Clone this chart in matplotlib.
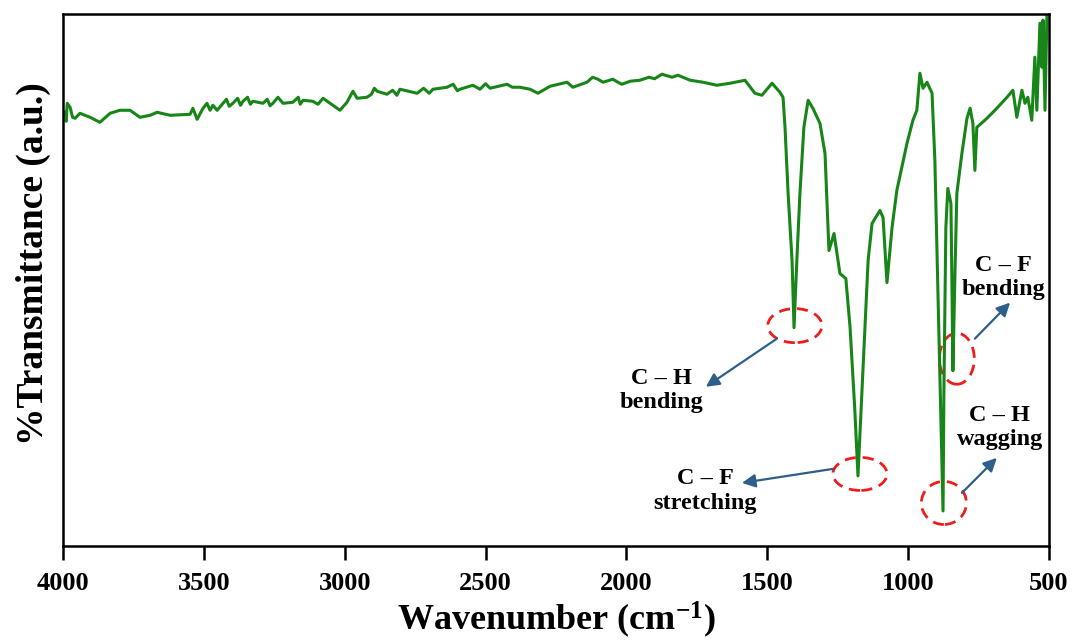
import matplotlib
matplotlib.use("Agg")
import matplotlib.pyplot as plt
from matplotlib.patches import Ellipse

plt.rcParams["font.family"] = ["Liberation Serif", "DejaVu Serif"]
plt.rcParams["font.weight"] = "bold"
plt.rcParams["mathtext.fontset"] = "custom"
plt.rcParams["mathtext.rm"] = "Liberation Serif:bold"
plt.rcParams["mathtext.bf"] = "Liberation Serif:bold"
plt.rcParams["mathtext.default"] = "bf"

# FTIR spectrum (wavenumber in cm-1, transmittance in a.u.)
wavenumber = [3993, 3989, 3985, 3975, 3966, 3957, 3940, 3904, 3869, 3833,
              3798, 3762, 3727, 3691, 3666, 3620, 3549, 3539, 3524, 3503,
              3489, 3478, 3468, 3453, 3432, 3420, 3410, 3397, 3380, 3370,
              3361, 3345, 3335, 3326, 3290, 3275, 3265, 3255, 3237, 3219,
              3184, 3165, 3158, 3148, 3113, 3095, 3077, 3052, 3017, 2992,
              2971, 2956, 2921, 2905, 2895, 2885, 2850, 2830, 2815, 2804,
              2743, 2720, 2700, 2687, 2637, 2615, 2600, 2591, 2545, 2520,
              2500, 2484, 2424, 2405, 2378, 2342, 2314, 2271, 2211, 2190,
              2140, 2120, 2101, 2083, 2048, 2030, 2016, 1987, 1952, 1920,
              1900, 1874, 1838, 1817, 1774, 1728, 1679, 1632, 1579, 1544,
              1519, 1483, 1455, 1444, 1437, 1426, 1412, 1405, 1395, 1384,
              1370, 1355, 1338, 1313, 1295, 1281, 1263, 1242, 1221, 1206,
              1189, 1178, 1167, 1153, 1142, 1128, 1100, 1089, 1075, 1057,
              1040, 1004, 983, 969, 958, 947, 933, 915, 905, 894,
              883, 876, 873, 866, 859, 848, 844, 841, 834, 827,
              809, 791, 780, 770, 763, 756, 720, 685, 649, 628,
              614, 596, 585, 575, 561, 550, 543, 532, 525, 521,
              514, 507, 500]
transmittance = [86.6, 84.8, 88.4, 87.6, 85.6, 85.4, 86.4, 85.6, 84.6, 86.4,
                 87.0, 87.0, 85.6, 86.0, 86.6, 86.0, 86.2, 87.4, 85.2, 87.4,
                 88.4, 87.0, 88.0, 87.0, 88.4, 89.2, 87.8, 88.4, 89.4, 88.0,
                 88.8, 89.6, 88.2, 88.8, 88.4, 89.2, 87.9, 88.4, 89.6, 88.4,
                 88.6, 89.6, 88.2, 89.0, 88.8, 88.2, 89.4, 88.4, 87.0, 88.6,
                 90.8, 89.4, 89.6, 90.2, 91.4, 90.8, 90.2, 91.0, 90.0, 91.2,
                 90.4, 91.4, 90.4, 91.2, 91.6, 92.2, 90.9, 91.2, 92.0, 91.2,
                 92.3, 91.4, 92.2, 91.6, 91.6, 91.2, 90.4, 91.8, 92.6, 91.6,
                 92.6, 93.6, 93.2, 92.6, 93.2, 92.6, 92.2, 92.8, 93.0, 93.6,
                 93.3, 94.2, 93.6, 94.0, 93.0, 92.6, 92.0, 92.4, 93.0, 90.4,
                 90.0, 92.4, 90.6, 89.6, 83.6, 70.4, 57.0, 43.6, 57.0, 70.4,
                 83.6, 89.0, 87.4, 84.4, 78.4, 59.0, 62.4, 54.4, 53.4, 43.6,
                 27.0, 14.0, 27.0, 43.6, 57.0, 64.4, 67.0, 65.6, 52.6, 63.6,
                 71.0, 80.4, 85.0, 87.0, 94.4, 91.4, 92.6, 90.4, 77.0, 50.4,
                 23.6, 7.0, 30.4, 63.6, 71.4, 68.4, 50.4, 35.0, 53.6, 70.4,
                 78.4, 85.4, 87.4, 84.4, 75.0, 83.6, 85.4, 87.4, 89.6, 91.0,
                 85.6, 91.0, 88.4, 89.6, 85.0, 97.6, 87.0, 104.4, 95.6, 105.0,
                 87.0, 106.6, 108.0]

xticks = [4000, 3500, 3000, 2500, 2000, 1500, 1000, 500]

# band assignments: label, ellipse centre/size, arrow tail, arrow head, label centre
band_labels = ["C \u2013 H\nbending", "C \u2013 F\nstretching",
               "C \u2013 F\nbending", "C \u2013 H\nwagging"]
ellipse_xy = [(1402, 44.0), (1171, 14.4), (827, 37.4), (873, 8.6)]
ellipse_wh = [(192, 6.8), (192, 6.6), (124, 10.2), (160, 8.6)]
arrow_tail = [(1466, 41.4), (1267, 15.4), (763, 41.4), (809, 10.6)]
arrow_head = [(1718, 31.8), (1590, 12.6), (638, 48.6), (685, 17.6)]
label_xy = [(1877, 31.0), (1721, 11.0), (663, 53.6), (674, 23.6)]

fig = plt.figure(figsize=(10.72, 6.42), dpi=100)
ax = fig.add_axes([0.0588, 0.1495, 0.9197, 0.8285])

ax.plot(wavenumber, transmittance, color="#178517", lw=2.2)

for (cx, cy), (w, h) in zip(ellipse_xy, ellipse_wh):
    ax.add_patch(Ellipse((cx, cy), w, h, fill=False, edgecolor="#ee1c1c",
                         lw=2.0, linestyle=(0, (4, 2.5))))

for tail, head in zip(arrow_tail, arrow_head):
    ax.annotate("", xy=head, xytext=tail,
                arrowprops=dict(arrowstyle="-|>", color="#2e5e8a", lw=1.6,
                                mutation_scale=20, shrinkA=0, shrinkB=0))

for text, (tx, ty) in zip(band_labels, label_xy):
    ax.text(tx, ty, text, ha="center", va="center", fontsize=17.5,
            fontweight="bold", linespacing=1.2)

ax.set_xlim(4000, 500)
ax.set_ylim(0, 106.2)
ax.set_xticks(xticks)
ax.set_yticks([])
ax.tick_params(axis="x", direction="out", length=10, width=1.8, pad=9,
               labelsize=19)
for lbl in ax.get_xticklabels():
    lbl.set_fontweight("bold")
for sp in ax.spines.values():
    sp.set_linewidth(1.8)

ax.set_xlabel("Wavenumber (cm$^{-1}$)", fontsize=26,
              fontweight="bold", labelpad=3)
ax.set_ylabel("%Transmittance (a.u.)", fontsize=27, fontweight="bold")
ax.yaxis.set_label_coords(-0.012, 0.53)

fig.savefig("out.png", dpi=100)
